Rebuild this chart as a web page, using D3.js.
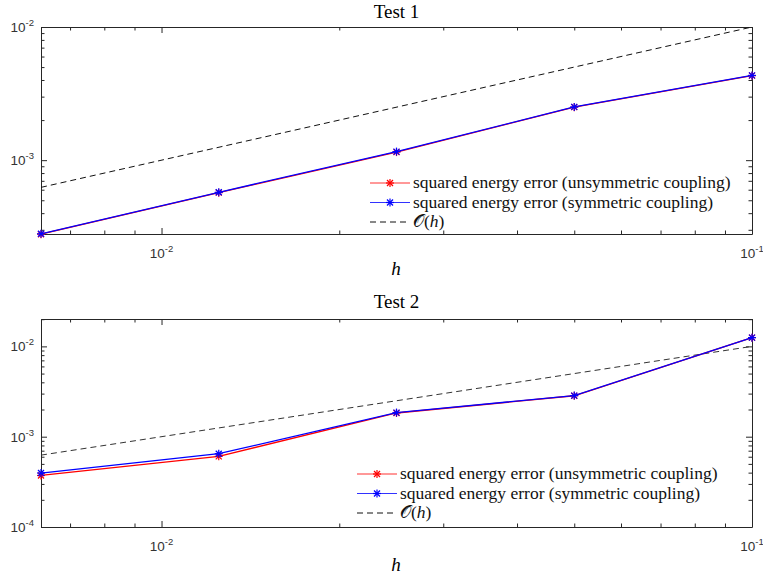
<!DOCTYPE html>
<html>
<head>
<meta charset="utf-8">
<script src="https://cdn.jsdelivr.net/npm/d3@7"></script>
<style>
  body { margin: 0; background: #fff; }
  svg { display: block; }
  .tick text { display: none; }
  .domain { stroke: #262626; }
  .tick line { stroke: #262626; }
</style>
</head>
<body>
<svg id="chart" width="763" height="577"></svg>
<script>
// datos: tamaño de malla h y errores
const h = [1/160, 1/80, 1/40, 1/20, 1/10]
const test1Unsym = [2.78e-4, 5.70e-4, 1.15e-3, 2.50e-3, 4.31e-3]
const test1Sym   = [2.80e-4, 5.74e-4, 1.16e-3, 2.51e-3, 4.33e-3]
const test2Unsym = [3.72e-4, 6.06e-4, 1.83e-3, 2.84e-3, 1.25e-2]
const test2Sym   = [3.96e-4, 6.48e-4, 1.85e-3, 2.85e-3, 1.25e-2]
const hRef = [1/160, 1/10]     // recta O(h)
const refVals = [6.25e-4, 1e-2]
const legendLabels = ['squared energy error (unsymmetric coupling)', 'squared energy error (symmetric coupling)']
const xTickLabels = [{v: 1e-2, e: '-2'}, {v: 1e-1, e: '-1'}]

const svg = d3.select('#chart')
const serif = "'Liberation Serif', 'DejaVu Serif', serif"
const sans = "'Liberation Sans', Arial, sans-serif"

const panels = [
  {title: 'Test 1', unsym: test1Unsym, sym: test1Sym, top: 27, bottom: 234, yDomain: [2.79e-4, 1e-2],
   yTicks: [{v: 1e-3, e: '-3'}, {v: 1e-2, e: '-2'}], titleY: 18, hY: 275, legX: 370, legY: 183, refColor: '#111'},
  {title: 'Test 2', unsym: test2Unsym, sym: test2Sym, top: 319, bottom: 527, yDomain: [1e-4, 2.01e-2],
   yTicks: [{v: 1e-4, e: '-4'}, {v: 1e-3, e: '-3'}, {v: 1e-2, e: '-2'}], titleY: 308, hY: 571, legX: 357, legY: 474, refColor: '#333'}
]

const left = 41, right = 752

// dibuja asterisco tipo matlab
function star(g, cx, cy, color) {
  const r = 4, d = 3
  const s = g.append('g').attr('stroke', color).attr('stroke-width', 1.2)
  s.append('line').attr('x1', cx - r).attr('x2', cx + r).attr('y1', cy).attr('y2', cy)
  s.append('line').attr('x1', cx).attr('x2', cx).attr('y1', cy - r).attr('y2', cy + r)
  s.append('line').attr('x1', cx - d).attr('x2', cx + d).attr('y1', cy - d).attr('y2', cy + d)
  s.append('line').attr('x1', cx - d).attr('x2', cx + d).attr('y1', cy + d).attr('y2', cy - d)
}

panels.forEach(p => {
  const x = d3.scaleLog().domain([h[0], h[h.length - 1]]).range([left, right])
  const y = d3.scaleLog().domain(p.yDomain).range([p.bottom, p.top])
  const g = svg.append('g')

  const xMinor = x.ticks().filter(v => Math.abs(Math.log10(v) - Math.round(Math.log10(v))) > 1e-9)
  const xMajor = xTickLabels.map(d => d.v)
  const yMinor = y.ticks().filter(v => Math.abs(Math.log10(v) - Math.round(Math.log10(v))) > 1e-9)
  const yMajor = p.yTicks.map(d => d.v)

  // ejes: ticks hacia adentro
  const axes = [
    [d3.axisBottom(x), `translate(0,${p.bottom})`, xMajor, xMinor],
    [d3.axisTop(x), `translate(0,${p.top})`, xMajor, xMinor],
    [d3.axisLeft(y), `translate(${left},0)`, yMajor, yMinor],
    [d3.axisRight(y), `translate(${right},0)`, yMajor, yMinor]
  ]
  axes.forEach(([ax, tr, maj, min]) => {
    g.append('g').attr('transform', tr)
      .call(ax.tickValues(min).tickSizeInner(-3.5).tickSizeOuter(0).tickFormat(''))
      .call(s => s.select('.domain').remove())
    g.append('g').attr('transform', tr)
      .call(ax.tickValues(maj).tickSizeInner(-6).tickSizeOuter(0).tickFormat(''))
  })

  // recta de referencia
  const lineRef = d3.line().x((d, i) => x(hRef[i])).y(d => y(d))
  g.append('path').datum(refVals).attr('d', lineRef)
    .attr('fill', 'none').attr('stroke', p.refColor).attr('stroke-width', 1).attr('stroke-dasharray', '6,4')

  // series
  const line = d3.line().x((d, i) => x(h[i])).y(d => y(d))
  ;[[p.unsym, '#ff0000'], [p.sym, '#0000ff']].forEach(([vals, color]) => {
    g.append('path').datum(vals).attr('d', line)
      .attr('fill', 'none').attr('stroke', color).attr('stroke-width', 1.3)
    vals.forEach((v, i) => star(g, x(h[i]), y(v), color))
  })

  // etiquetas de ticks
  xTickLabels.forEach(d => {
    const t = g.append('text').attr('x', x(d.v)).attr('y', p.bottom + 24)
      .attr('text-anchor', 'middle').attr('fill', '#333').style('font-family', sans).style('font-size', '13.5px')
    t.append('tspan').text('10')
    t.append('tspan').attr('dy', -6).style('font-size', '9.5px').text(d.e)
  })
  p.yTicks.forEach(d => {
    const t = g.append('text').attr('x', left - 7).attr('y', y(d.v) + 5)
      .attr('text-anchor', 'end').attr('fill', '#333').style('font-family', sans).style('font-size', '13.5px')
    t.append('tspan').text('10')
    t.append('tspan').attr('dy', -6).style('font-size', '9.5px').text(d.e)
  })

  // titulo y etiqueta h
  g.append('text').attr('x', (left + right) / 2).attr('y', p.titleY).attr('text-anchor', 'middle')
    .style('font-family', serif).style('font-size', '19px').text(p.title)
  g.append('text').attr('x', 396).attr('y', p.hY).attr('text-anchor', 'middle')
    .style('font-family', serif).style('font-style', 'italic').style('font-size', '19px').text('h')

  // leyenda
  const leg = g.append('g')
  ;[['#ff0000', legendLabels[0]], ['#0000ff', legendLabels[1]]].forEach(([color, label], i) => {
    const ly = p.legY + i * 19.5
    leg.append('line').attr('x1', p.legX).attr('x2', p.legX + 40).attr('y1', ly).attr('y2', ly)
      .attr('stroke', color).attr('stroke-width', 1.2).attr('opacity', 0.8)
    star(leg, p.legX + 20, ly, color)
    leg.append('text').attr('x', p.legX + 43).attr('y', ly + 5)
      .style('font-family', serif).style('font-size', '17.5px').attr('fill', '#111').text(label)
  })
  const ly3 = p.legY + 2 * 19.5
  leg.append('line').attr('x1', p.legX).attr('x2', p.legX + 40).attr('y1', ly3).attr('y2', ly3)
    .attr('stroke', '#111').attr('stroke-width', 1).attr('stroke-dasharray', '6,4')
  const o = leg.append('text').attr('x', p.legX + 43).attr('y', ly3 + 5)
    .style('font-family', serif).style('font-size', '17.5px').attr('fill', '#111')
  o.append('tspan').style('font-family', "'DejaVu Serif', serif").text('𝒪')
  o.append('tspan').text('(')
  o.append('tspan').style('font-style', 'italic').text('h')
  o.append('tspan').text(')')
})
</script>
</body>
</html>
